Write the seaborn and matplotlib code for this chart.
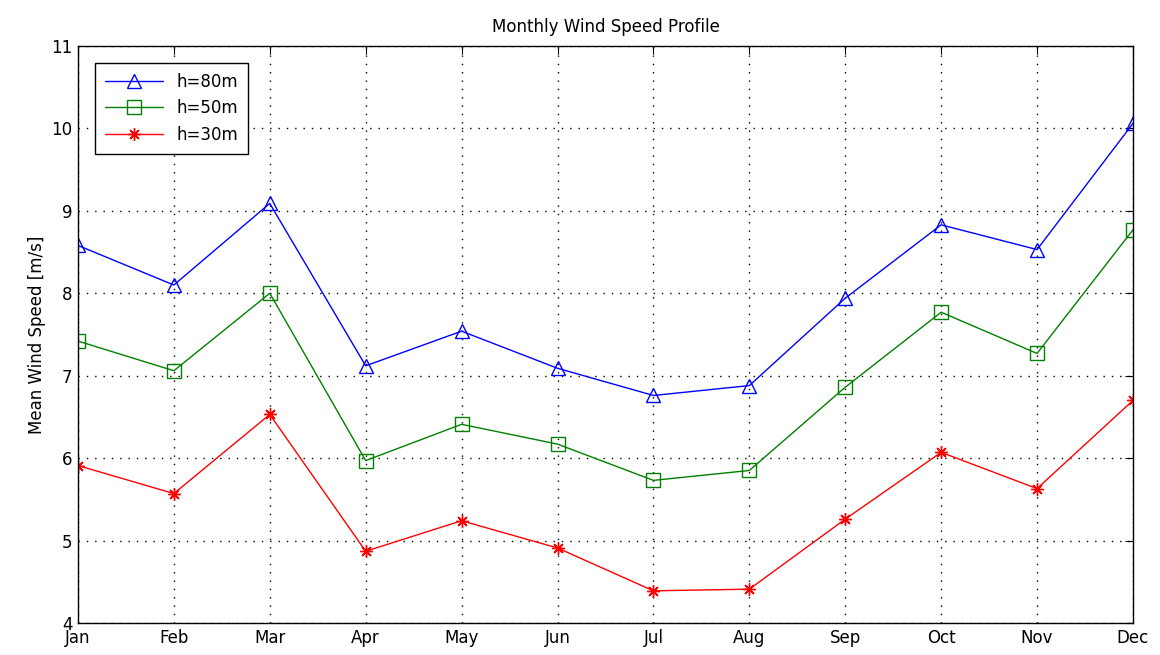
import pandas as pd
import matplotlib
matplotlib.use("Agg")
import matplotlib.pyplot as plt
import seaborn as sns

months = ['Jan', 'Feb', 'Mar', 'Apr', 'May', 'Jun', 'Jul', 'Aug', 'Sep', 'Oct', 'Nov', 'Dec']
h80 = [8.58, 8.10, 9.09, 7.12, 7.54, 7.09, 6.76, 6.88, 7.94, 8.83, 8.53, 10.06]
h50 = [7.42, 7.06, 8.00, 5.97, 6.41, 6.17, 5.73, 5.85, 6.86, 7.77, 7.27, 8.77]
h30 = [5.91, 5.57, 6.53, 4.87, 5.24, 4.91, 4.39, 4.41, 5.26, 6.07, 5.63, 6.70]

# name, values, colour, marker
series = [('h=80m', h80, (0, 0, 1), '^'),
          ('h=50m', h50, (0, 0.5, 0), 's'),
          ('h=30m', h30, (1, 0, 0), (8, 2, 0))]

sns.set_style("white")
plt.rcParams['font.family'] = ['DejaVu Sans']
plt.rcParams['text.color'] = 'black'
plt.rcParams['axes.labelcolor'] = 'black'

fig = plt.figure(figsize=(11.6, 6.55), dpi=100)
ax = fig.add_axes([0.0672, 0.0489, 0.9095, 0.8809])

for name, vals, col, mk in series:
    df = pd.DataFrame({'month': months, 'speed': vals})
    star = not isinstance(mk, str)
    sns.lineplot(data=df, x='month', y='speed', ax=ax, color=col, marker=mk,
                 markersize=9 if star else 10, mfc=col if star else 'none',
                 mec=col, mew=1.0, lw=1.0, label=name)

ax.set_xlim(0, 11)
ax.set_ylim(4, 11)
ax.set_xticks(range(12))
ax.set_xticklabels(months)
ax.set_yticks(range(4, 12))
ax.grid(True, linestyle=(0, (1, 5)), color='black', lw=1.0)
for s in ax.spines.values():
    s.set_color('black')
    s.set_linewidth(1.0)
ax.tick_params(direction='in', top=True, right=True, length=6, labelsize=12,
               colors='black', pad=4)
ax.set_xlabel('')
ax.set_ylabel('Mean Wind Speed [m/s]', fontsize=12)
ax.set_title('Monthly Wind Speed Profile', fontsize=12, pad=10)

leg = ax.legend(loc='upper left', fontsize=12, fancybox=False, edgecolor='black',
                framealpha=1, borderpad=0.6, handlelength=3.5,
                bbox_to_anchor=(0.008, 0.985))
leg.get_frame().set_linewidth(1.0)

fig.savefig('out.png', dpi=100)
